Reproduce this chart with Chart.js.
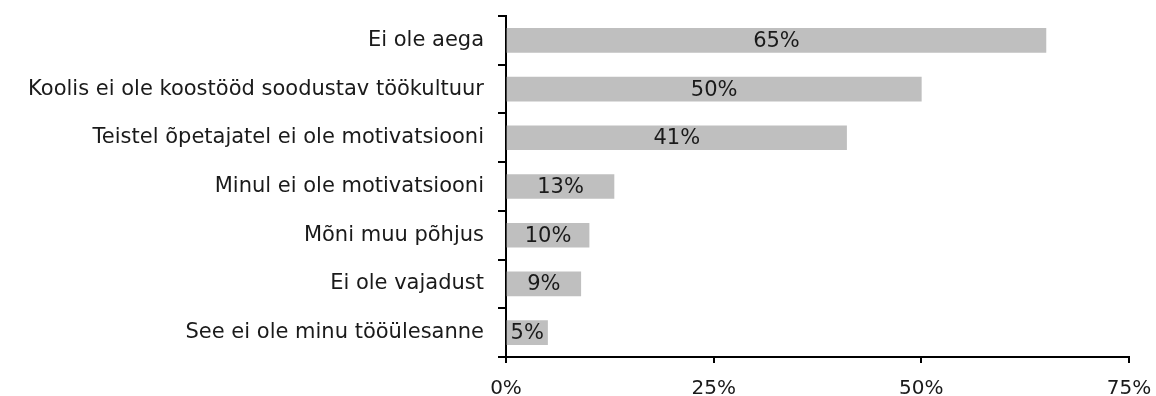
<!DOCTYPE html>
<html>
<head>
<meta charset="utf-8">
<script src="https://cdn.jsdelivr.net/npm/chart.js@4/dist/chart.umd.min.js"></script>
<style>
    html, body { margin: 0; padding: 0; background: #fff; }
    #wrap { width: 1156px; height: 396px; }
</style>
</head>
<body>
<div id="wrap"><canvas id="reasonsChart" width="1156" height="396"></canvas></div>
<script>
const reasons = [
    'Ei ole aega',
    'Koolis ei ole koostööd soodustav töökultuur',
    'Teistel õpetajatel ei ole motivatsiooni',
    'Minul ei ole motivatsiooni',
    'Mõni muu põhjus',
    'Ei ole vajadust',
    'See ei ole minu tööülesanne'
];
const shares = [65, 50, 41, 13, 10, 9, 5];
const axisTicks = [0, 25, 50, 75];

const FONT = "'DejaVu Sans', sans-serif";
const TEXT = '#1a1a1a';

// writes the percentage in the middle of each bar
const barLabels = {
    id: 'barLabels',
    afterDatasetsDraw(chart) {
        const ctx = chart.ctx;
        const meta = chart.getDatasetMeta(0);
        ctx.save();
        ctx.font = '21px ' + FONT;
        ctx.fillStyle = TEXT;
        ctx.textAlign = 'center';
        ctx.textBaseline = 'middle';
        meta.data.forEach((bar, i) => {
            const mid = (bar.x + bar.base) / 2;
            ctx.fillText(shares[i] + '%', mid, bar.y + 1);
        });
        ctx.restore();
    }
};

new Chart(document.getElementById('reasonsChart'), {
    type: 'bar',
    data: {
        labels: reasons,
        datasets: [{
            data: shares,
            backgroundColor: '#bfbfbf',
            borderWidth: 0,
            barThickness: 24
        }]
    },
    options: {
        indexAxis: 'y',
        responsive: false,
        animation: false,
        layout: { padding: { top: 16, right: 27, bottom: 0, left: 0 } },
        plugins: {
            legend: { display: false },
            tooltip: { enabled: false }
        },
        scales: {
            x: {
                min: 0,
                max: 75,
                afterBuildTicks(scale) {
                    scale.ticks = axisTicks.map(v => ({ value: v }));
                },
                afterFit(scale) {
                    scale.height = 39;
                    scale.paddingLeft = 0;
                    scale.paddingRight = 0;
                },
                grid: {
                    drawOnChartArea: false,
                    drawTicks: true,
                    tickLength: 6,
                    color: '#000',
                    lineWidth: 2
                },
                border: { display: true, color: '#000', width: 2 },
                ticks: {
                    padding: 14,
                    color: TEXT,
                    font: { family: FONT, size: 20 },
                    callback: v => v + '%'
                }
            },
            y: {
                afterFit(scale) {
                    scale.width = 506;
                    scale.paddingTop = 0;
                    scale.paddingBottom = 0;
                },
                grid: {
                    offset: true,
                    drawOnChartArea: false,
                    drawTicks: true,
                    tickLength: 8,
                    color: '#000',
                    lineWidth: 2
                },
                border: { display: true, color: '#000', width: 2 },
                ticks: {
                    padding: 14,
                    color: TEXT,
                    font: { family: FONT, size: 21 }
                }
            }
        }
    },
    plugins: [barLabels]
});
</script>
</body>
</html>
